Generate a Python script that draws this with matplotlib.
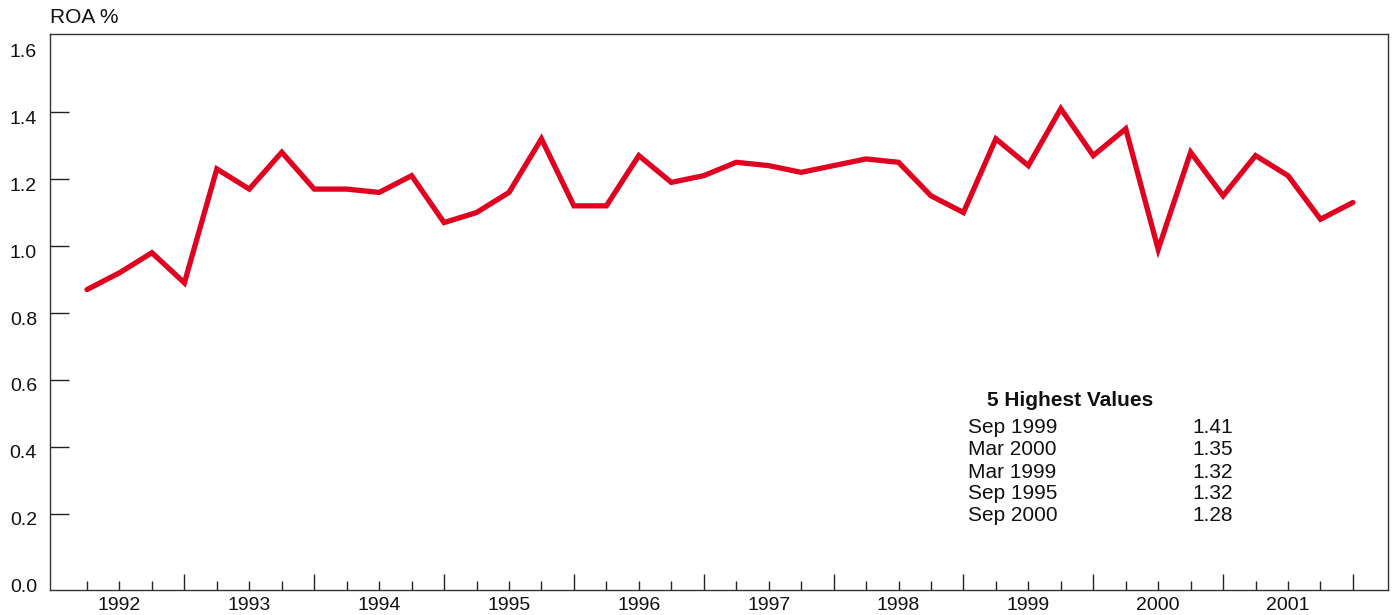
import matplotlib
matplotlib.use("Agg")
import matplotlib.pyplot as plt
from matplotlib.transforms import ScaledTranslation

plt.rcParams['font.family'] = ['Liberation Sans', 'DejaVu Sans']

# Quarterly ROA, Mar 1992 .. Dec 2001
quarters = [f"{m} {y}" for y in range(1992, 2002) for m in ("Mar", "Jun", "Sep", "Dec")]
roa = [0.87, 0.92, 0.98, 0.89,
       1.23, 1.17, 1.28, 1.17,
       1.17, 1.16, 1.21, 1.07,
       1.10, 1.16, 1.32, 1.12,
       1.12, 1.27, 1.19, 1.21,
       1.25, 1.24, 1.22, 1.24,
       1.26, 1.25, 1.15, 1.10,
       1.32, 1.24, 1.41, 1.27,
       1.35, 0.99, 1.28, 1.15,
       1.27, 1.21, 1.08, 1.13]
years = [str(y) for y in range(1992, 2002)]
yticks = [0.0, 0.2, 0.4, 0.6, 0.8, 1.0, 1.2, 1.4, 1.6]
top_title = "5 Highest Values"
top_labels = ["Sep 1999", "Mar 2000", "Mar 1999", "Sep 1995", "Sep 2000"]
top_values = ["1.41", "1.35", "1.32", "1.32", "1.28"]

W, H = 1395, 615
fig = plt.figure(figsize=(W / 100, H / 100), dpi=100)
L, R, T, B = 50, 1388, 34, 590
ax = fig.add_axes([L / W, (H - B) / H, (R - L) / W, (B - T) / H])

x = list(range(len(roa)))
ax.plot(x, roa, color='#E0001F', lw=3.8, solid_joinstyle='miter', solid_capstyle='round', zorder=3)

ax.set_xlim(-1.14, len(roa) - 1 + 1.08)
ax.set_ylim(-0.027, 1.633)

for s in ax.spines.values():
    s.set_color('#333333')
    s.set_linewidth(1.0)

# y ticks
ax.set_yticks(yticks, labels=[f"{v:.1f}" for v in yticks])
ax.tick_params(axis='y', direction='in', length=13.7, width=1.0, color='#222222',
               labelsize=14, pad=9.4, labelcolor='#111111')
yt = ax.yaxis.get_major_ticks()
yt[0].tick1line.set_visible(False)
yt[-1].tick1line.set_visible(False)
off = ScaledTranslation(0, -5 / 100, fig.dpi_scale_trans)
for lab in ax.get_yticklabels():
    lab.set_transform(lab.get_transform() + off)

# x ticks: major at Dec (year boundaries), minor at other quarters, year labels at Jun
dec_idx = [i for i in x if i % 4 == 3]
other_idx = [i for i in x if i % 4 != 3]
ax.set_xticks(dec_idx, labels=[''] * len(dec_idx))
minor_labels = [years[i // 4] if i % 4 == 1 else '' for i in other_idx]
ax.set_xticks(other_idx, labels=minor_labels, minor=True)
ax.tick_params(axis='x', which='major', direction='in', length=11.5, width=1.0, color='#222222')
ax.tick_params(axis='x', which='minor', direction='in', length=6.8, width=1.0, color='#222222',
               labelsize=14, pad=5, labelcolor='#111111')

# title-like axis label
fig.text(L / W, 1 - 17.5 / H, "ROA %", ha='left', va='center', fontsize=15, color='#111111')

# table of highest values
ax.text(0.7003, 0.3417, top_title, transform=ax.transAxes, ha='left', va='center',
        fontsize=15, fontweight='bold', color='#111111')
row_y = [0.2914, 0.2518, 0.2122, 0.1727, 0.1331]
for yy, lab, val in zip(row_y, top_labels, top_values):
    ax.text(0.6861, yy, lab, transform=ax.transAxes, ha='left', va='center', fontsize=15, color='#111111')
    ax.text(0.8842, yy, val, transform=ax.transAxes, ha='right', va='center', fontsize=15, color='#111111')

fig.savefig("out.png", dpi=100)
